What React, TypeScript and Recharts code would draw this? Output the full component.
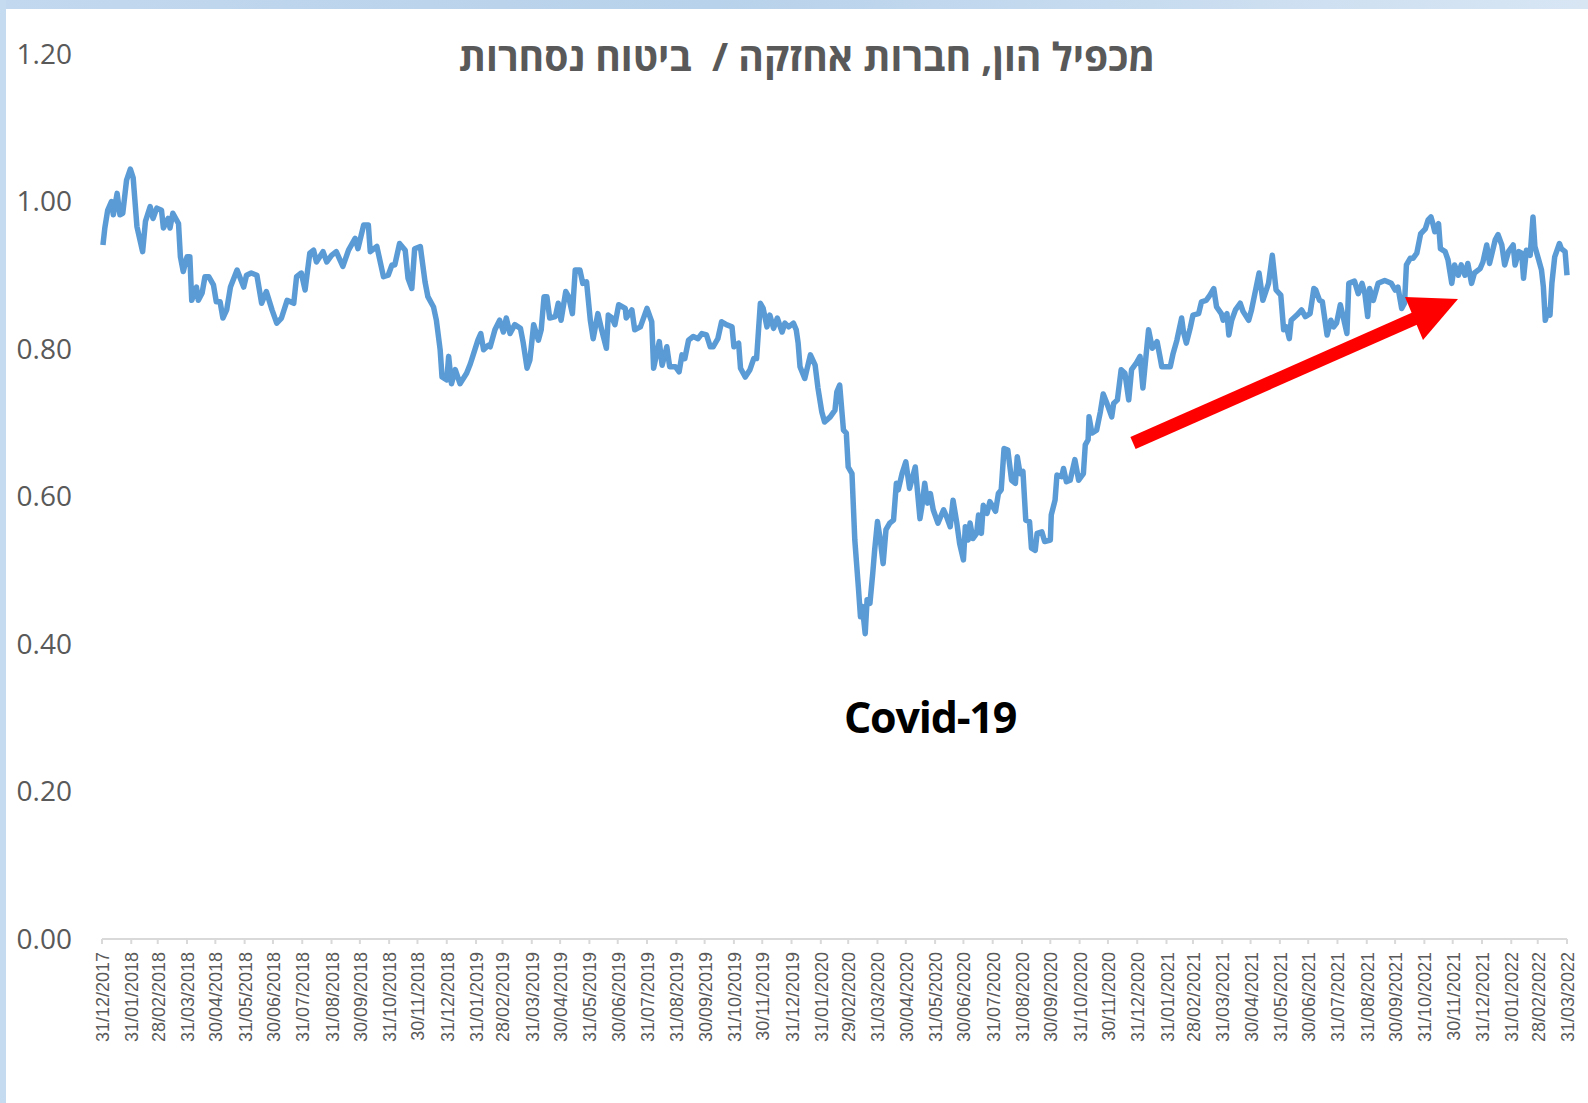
import { LineChart, Line, XAxis, YAxis } from 'recharts'

// day = days after 31/12/2017, value = capital multiple
const points2018: [number, number][] = [
  [1, 0.941], [3, 0.964], [6, 0.988], [10, 1.0], [12, 0.982], [16, 1.011], [19, 0.982], [22, 0.984],
  [26, 1.029], [30, 1.044], [33, 1.032], [37, 0.966], [43, 0.932], [46, 0.973], [51, 0.993], [54, 0.977],
  [58, 0.991], [63, 0.988], [65, 0.964], [70, 0.977], [72, 0.964], [75, 0.984], [81, 0.97], [83, 0.925],
  [86, 0.905], [90, 0.925], [93, 0.925], [95, 0.866], [100, 0.884], [102, 0.866], [106, 0.876], [109, 0.898],
  [113, 0.898], [118, 0.887], [121, 0.864], [125, 0.864], [128, 0.842], [132, 0.853], [136, 0.884], [143, 0.907],
  [150, 0.884], [153, 0.9], [158, 0.903], [164, 0.9], [169, 0.862], [174, 0.878], [180, 0.853], [185, 0.835],
  [190, 0.842], [196, 0.866], [203, 0.862], [206, 0.898], [211, 0.903], [215, 0.88], [220, 0.93], [224, 0.934],
  [227, 0.918], [234, 0.932], [238, 0.918], [243, 0.927], [248, 0.932], [255, 0.912], [261, 0.934], [268, 0.95],
  [271, 0.936], [277, 0.968], [282, 0.968], [284, 0.932], [291, 0.939], [298, 0.898], [303, 0.9], [307, 0.914],
  [310, 0.914], [315, 0.943], [321, 0.934], [324, 0.896], [328, 0.882], [331, 0.936], [337, 0.939], [342, 0.891],
  [345, 0.871], [351, 0.857], [354, 0.839], [358, 0.799], [360, 0.762], [365, 0.758],
]

const points2019: [number, number][] = [
  [367, 0.79], [370, 0.753], [374, 0.772], [379, 0.753], [386, 0.767], [390, 0.78], [393, 0.792], [398, 0.812],
  [401, 0.821], [404, 0.799], [409, 0.805], [411, 0.803], [416, 0.826], [421, 0.839], [425, 0.823], [428, 0.842],
  [432, 0.821], [437, 0.833], [443, 0.828], [446, 0.808], [450, 0.774], [453, 0.785], [457, 0.833], [462, 0.812],
  [465, 0.826], [468, 0.871], [471, 0.871], [474, 0.842], [480, 0.844], [483, 0.862], [486, 0.839], [491, 0.878],
  [494, 0.871], [498, 0.848], [501, 0.907], [506, 0.907], [509, 0.889], [513, 0.891], [517, 0.839], [520, 0.814],
  [525, 0.848], [529, 0.826], [534, 0.801], [536, 0.846], [540, 0.842], [543, 0.833], [547, 0.86], [554, 0.855],
  [555, 0.842], [561, 0.853], [564, 0.826], [570, 0.83], [577, 0.855], [582, 0.837], [584, 0.774], [590, 0.81],
  [593, 0.778], [598, 0.803], [601, 0.776], [607, 0.776], [611, 0.769], [614, 0.792], [617, 0.787], [621, 0.812],
  [626, 0.817], [631, 0.814], [635, 0.821], [640, 0.819], [644, 0.803], [647, 0.803], [652, 0.814], [656, 0.837],
  [661, 0.833], [667, 0.83], [669, 0.803], [674, 0.808], [676, 0.774], [681, 0.762], [686, 0.772], [690, 0.787],
  [693, 0.787], [697, 0.862], [700, 0.855], [704, 0.83], [707, 0.846], [711, 0.828], [715, 0.842], [720, 0.823],
  [723, 0.835], [727, 0.83],
]

const points2020: [number, number][] = [
  [732, 0.835], [735, 0.826], [737, 0.808], [739, 0.776], [744, 0.76], [750, 0.792], [755, 0.778], [758, 0.747],
  [762, 0.715], [765, 0.701], [771, 0.708], [776, 0.717], [778, 0.742], [781, 0.751], [785, 0.69], [788, 0.686],
  [790, 0.64], [794, 0.631], [797, 0.541], [801, 0.473], [803, 0.437], [805, 0.451], [808, 0.414], [810, 0.46],
  [813, 0.455], [816, 0.496], [818, 0.527], [821, 0.566], [824, 0.541], [827, 0.509], [830, 0.555], [834, 0.564],
  [838, 0.568], [841, 0.618], [843, 0.609], [847, 0.631], [851, 0.647], [855, 0.611], [861, 0.64], [866, 0.57],
  [868, 0.586], [871, 0.618], [874, 0.591], [877, 0.604], [880, 0.582], [885, 0.564], [891, 0.582], [894, 0.573],
  [898, 0.559], [901, 0.595], [905, 0.564], [908, 0.536], [912, 0.514], [914, 0.559], [917, 0.541], [919, 0.564],
  [922, 0.543], [926, 0.55], [928, 0.575], [931, 0.55], [933, 0.588], [937, 0.577], [940, 0.593], [946, 0.58],
  [949, 0.604], [952, 0.609], [955, 0.665], [959, 0.663], [963, 0.622], [967, 0.618], [969, 0.654], [972, 0.631],
  [975, 0.634], [978, 0.568], [982, 0.566], [984, 0.53], [988, 0.527], [990, 0.55], [995, 0.552], [998, 0.539],
  [1004, 0.541], [1005, 0.575], [1009, 0.595], [1011, 0.629], [1016, 0.627], [1018, 0.638], [1021, 0.62], [1025, 0.622],
  [1030, 0.65], [1034, 0.622], [1039, 0.631], [1041, 0.67], [1044, 0.677], [1045, 0.708], [1048, 0.686], [1053, 0.69],
  [1057, 0.715], [1060, 0.739], [1064, 0.726], [1069, 0.708], [1071, 0.726], [1075, 0.731], [1079, 0.772], [1083, 0.767],
  [1087, 0.731], [1090, 0.772], [1095, 0.781],
]

const points2021: [number, number][] = [
  [1099, 0.79], [1102, 0.747], [1108, 0.826], [1112, 0.801], [1117, 0.81], [1120, 0.79], [1122, 0.776], [1127, 0.776],
  [1131, 0.776], [1134, 0.794], [1138, 0.812], [1143, 0.842], [1145, 0.823], [1148, 0.808], [1152, 0.828], [1155, 0.846],
  [1161, 0.848], [1164, 0.864], [1169, 0.866], [1173, 0.873], [1177, 0.882], [1180, 0.857], [1185, 0.848], [1187, 0.839],
  [1191, 0.848], [1193, 0.819], [1196, 0.839], [1200, 0.853], [1205, 0.862], [1208, 0.851], [1214, 0.839], [1217, 0.853],
  [1221, 0.878], [1225, 0.903], [1229, 0.866], [1235, 0.889], [1239, 0.927], [1243, 0.88], [1248, 0.873], [1251, 0.826],
  [1254, 0.83], [1257, 0.814], [1259, 0.839], [1265, 0.846], [1270, 0.853], [1274, 0.844], [1279, 0.848], [1283, 0.882],
  [1285, 0.88], [1289, 0.866], [1292, 0.864], [1297, 0.819], [1301, 0.839], [1304, 0.83], [1307, 0.835], [1311, 0.86],
  [1314, 0.844], [1318, 0.821], [1320, 0.889], [1326, 0.892], [1330, 0.875], [1334, 0.889], [1337, 0.875], [1340, 0.844],
  [1342, 0.882], [1346, 0.866], [1351, 0.889], [1358, 0.893], [1365, 0.889], [1369, 0.88], [1372, 0.884], [1376, 0.855],
  [1379, 0.862], [1381, 0.914], [1385, 0.923], [1388, 0.923], [1392, 0.93], [1396, 0.956], [1401, 0.963], [1404, 0.975],
  [1407, 0.979], [1409, 0.97], [1411, 0.959], [1415, 0.97], [1417, 0.936], [1422, 0.932], [1425, 0.921], [1429, 0.889],
  [1432, 0.914], [1436, 0.9], [1439, 0.914], [1443, 0.9], [1446, 0.916], [1450, 0.889], [1453, 0.903], [1459, 0.909],
]

const points2022: [number, number][] = [
  [1462, 0.918], [1466, 0.941], [1469, 0.916], [1475, 0.948], [1478, 0.955], [1482, 0.941], [1485, 0.914], [1489, 0.932],
  [1494, 0.941], [1496, 0.914], [1500, 0.932], [1503, 0.93], [1505, 0.896], [1508, 0.934], [1512, 0.927], [1515, 0.979],
  [1517, 0.939], [1521, 0.921], [1524, 0.907], [1526, 0.884], [1528, 0.839], [1531, 0.853], [1533, 0.846], [1535, 0.889],
  [1538, 0.925], [1543, 0.943], [1545, 0.936], [1549, 0.932], [1551, 0.9],
]

const tickLabels = [
  '31/12/2017', '31/01/2018', '28/02/2018', '31/03/2018', '30/04/2018', '31/05/2018', '30/06/2018', '31/07/2018',
  '31/08/2018', '30/09/2018', '31/10/2018', '30/11/2018', '31/12/2018', '31/01/2019', '28/02/2019', '31/03/2019',
  '30/04/2019', '31/05/2019', '30/06/2019', '31/07/2019', '31/08/2019', '30/09/2019', '31/10/2019', '30/11/2019',
  '31/12/2019', '31/01/2020', '29/02/2020', '31/03/2020', '30/04/2020', '31/05/2020', '30/06/2020', '31/07/2020',
  '31/08/2020', '30/09/2020', '31/10/2020', '30/11/2020', '31/12/2020', '31/01/2021', '28/02/2021', '31/03/2021',
  '30/04/2021', '31/05/2021', '30/06/2021', '31/07/2021', '31/08/2021', '30/09/2021', '31/10/2021', '30/11/2021',
  '31/12/2021', '31/01/2022', '28/02/2022', '31/03/2022',
]

const yTicks = [0, 0.2, 0.4, 0.6, 0.8, 1.0, 1.2]

const title = 'מכפיל הון, חברות אחזקה /  ביטוח נסחרות'
const annotation = 'Covid-19'

const grey = '#595959'
const lineBlue = '#5b9bd5'

const dayOf = (label: string) => {
  const [d, m, y] = label.split('/').map(Number)
  return Math.round((Date.UTC(y, m - 1, d) - Date.UTC(2017, 11, 31)) / 86400000)
}
const tickDays = tickLabels.map(dayOf)
const labelByDay: Record<number, string> = {}
tickLabels.forEach((l, i) => (labelByDay[tickDays[i]] = l))

const data = [...points2018, ...points2019, ...points2020, ...points2021, ...points2022].map(([day, value]) => ({
  day,
  value,
}))

const DateTick = (props: any) => {
  const { x, y, payload } = props
  return (
    <text
      x={x + 1}
      y={y}
      transform={`rotate(-90 ${x + 1} ${y})`}
      textAnchor="end"
      dominantBaseline="central"
      fill={grey}
      fontSize={18}
      fontFamily="'Liberation Sans', Arial, sans-serif"
    >
      {labelByDay[payload.value]}
    </text>
  )
}

export default function App() {
  return (
    <div style={{ position: 'absolute', left: 0, top: 0, width: 1588, height: 1103, background: '#fff', overflow: 'hidden' }}>
      <div
        style={{
          position: 'absolute', left: 0, top: 0, width: 1588, height: 9,
          background: 'linear-gradient(to right, #c2d8ee, #b8d2eb 45%, #d8e6f4)',
        }}
      />
      <div style={{ position: 'absolute', left: 0, top: 0, width: 6, height: 1103, background: '#c5dbf0' }} />

      <div style={{ position: 'absolute', left: 0, top: 0 }}>
        <LineChart width={1588} height={1103} data={data} margin={{ top: 54, right: 21, bottom: 14, left: 12 }}>
          <XAxis
            dataKey="day"
            type="number"
            domain={[0, 1551]}
            ticks={tickDays}
            interval={0}
            height={150}
            stroke="#d9d9d9"
            strokeWidth={2}
            tickSize={5}
            tickMargin={8}
            tick={<DateTick />}
          />
          <YAxis
            type="number"
            domain={[0, 1.2]}
            ticks={yTicks}
            width={90}
            axisLine={false}
            tickLine={false}
            tickSize={0}
            tickMargin={30}
            tickFormatter={(v: number) => v.toFixed(2)}
            tick={{ fill: grey, fontSize: 28, fontFamily: "'Open Sans', sans-serif" }}
          />
          <Line
            type="linear"
            dataKey="value"
            stroke={lineBlue}
            strokeWidth={5.5}
            strokeLinejoin="round"
            dot={false}
            isAnimationActive={false}
          />
        </LineChart>
      </div>

      <svg width={1588} height={1103} style={{ position: 'absolute', left: 0, top: 0, pointerEvents: 'none' }}>
        <text
          x={807}
          y={71}
          textAnchor="middle"
          direction="rtl"
          fill={grey}
          fontSize={39}
          fontWeight="bold"
          fontFamily="'Open Sans', 'DejaVu Sans', sans-serif"
          style={{ whiteSpace: 'pre' }}
        >
          {title}
        </text>
        <text
          x={930}
          y={733}
          textAnchor="middle"
          fill="#000"
          fontSize={43}
          fontWeight="bold"
          letterSpacing={-1.2}
          fontFamily="'Open Sans', sans-serif"
        >
          {annotation}
        </text>
        <line x1={1133} y1={443} x2={1416} y2={318} stroke="#ff0000" strokeWidth={13} />
        <polygon points="1405,297 1458,299 1423,340" fill="#ff0000" />
      </svg>
    </div>
  )
}
